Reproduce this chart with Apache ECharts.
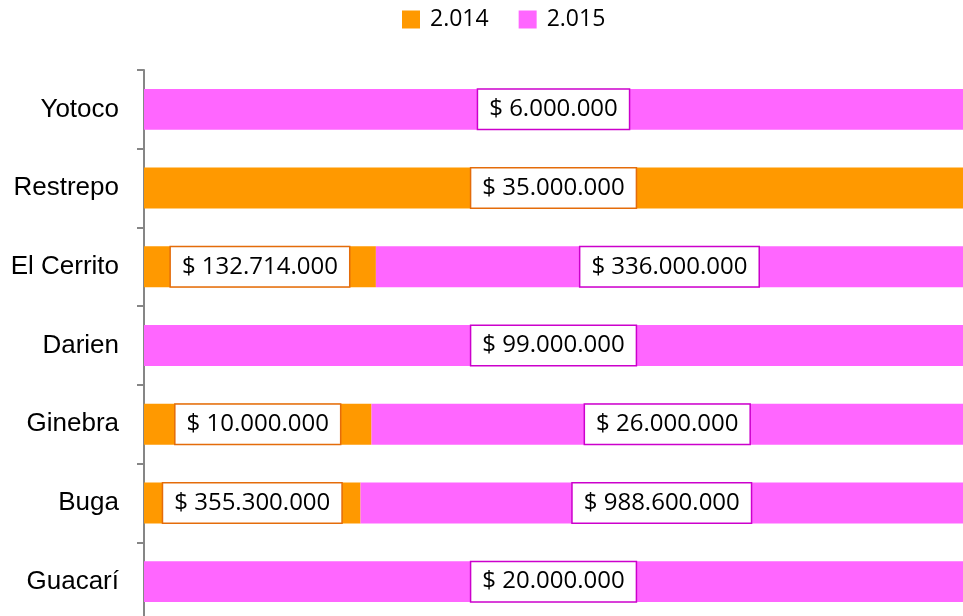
<!DOCTYPE html>
<html>
<head>
<meta charset="utf-8">
<script src="https://cdn.jsdelivr.net/npm/echarts@6/dist/echarts.min.js"></script>
<style>
  html, body { margin: 0; padding: 0; background: #fff; }
  #chart { width: 963px; height: 616px; }
</style>
</head>
<body>
<div id="chart"></div>
<script>
  // municipios, de abajo hacia arriba
  var municipios = ['Guacarí', 'Buga', 'Ginebra', 'Darien', 'El Cerrito', 'Restrepo', 'Yotoco']
  var valores2014 = [0, 355300000, 10000000, 0, 132714000, 35000000, 0]
  var valores2015 = [20000000, 988600000, 26000000, 99000000, 336000000, 0, 6000000]
  var nombres = ['2.014', '2.015']

  function pesos(v){
    return '$ ' + String(v).replace(/\B(?=(\d{3})+(?!\d))/g, '.')
  }

  // barra apilada al 100%
  function porcentajes(serie){
    return serie.map(function(v, i){
      var total = valores2014[i] + valores2015[i]
      var item = { value: total ? v / total * 100 : 0, raw: v }
      if (!v) item.label = { show: false }
      return item
    })
  }

  function etiqueta(borde){
    return {
      show: true,
      position: 'inside',
      formatter: function(p){ return pesos(p.data.raw) },
      backgroundColor: '#fff',
      borderColor: borde,
      borderWidth: 1.5,
      padding: [8, 11, 7, 11],
      color: '#000',
      fontFamily: 'Open Sans',
      fontSize: 24
    }
  }

  var myChart = echarts.init(document.getElementById('chart'))
  myChart.setOption({
    animation: false,
    legend: {
      data: nombres,
      top: 3,
      left: 397,
      icon: 'rect',
      itemWidth: 18,
      itemHeight: 18,
      itemGap: 30,
      textStyle: { color: '#000', fontFamily: 'Open Sans', fontSize: 23, padding: [0, 0, 0, 5] }
    },
    grid: {
      left: 144,
      right: 0,
      top: 70,
      height: 551,
      outerBoundsMode: 'none'
    },
    xAxis: {
      type: 'value',
      min: 0,
      max: 100,
      show: false
    },
    yAxis: {
      type: 'category',
      data: municipios,
      axisLine: { lineStyle: { color: '#868686', width: 2 } },
      axisTick: { show: true, length: 7, lineStyle: { color: '#868686', width: 2 } },
      axisLabel: {
        margin: 25,
        color: '#000',
        fontFamily: 'Liberation Sans',
        fontSize: 26
      }
    },
    series: [
      {
        name: nombres[0],
        type: 'bar',
        stack: 'total',
        barWidth: '52%',
        itemStyle: { color: '#FF9900' },
        label: etiqueta('#E46C0A'),
        data: porcentajes(valores2014)
      },
      {
        name: nombres[1],
        type: 'bar',
        stack: 'total',
        barWidth: '52%',
        itemStyle: { color: '#FF66FF' },
        label: etiqueta('#CC00CC'),
        data: porcentajes(valores2015)
      }
    ]
  })
</script>
</body>
</html>
